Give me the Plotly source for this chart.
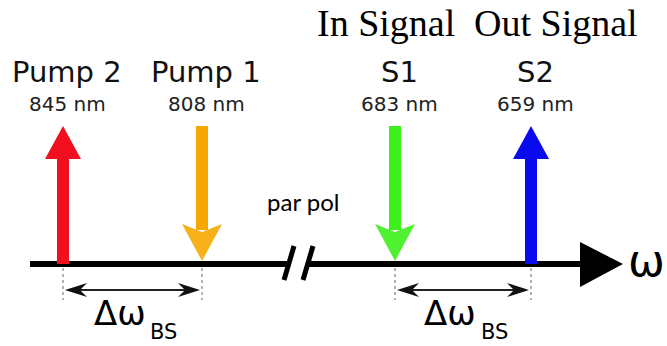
import plotly.graph_objects as go

# Optical lines on the frequency axis (schematic positions along ω)
line_names = ["Pump 2", "Pump 1", "S1", "S2"]
wavelengths_nm = [845, 808, 683, 659]
axis_pos = [63, 202, 395, 531]
directions = ["up", "down", "down", "up"]
line_colors = ["#f01020", "#f6a800", "#3cf01a", "#0a0aee"]

# Group headers above the signal lines
group_titles = ["In Signal", "Out Signal"]
group_pos = [386, 556]

# Pairs of lines separated by the Bragg-scattering shift
shift_pairs = [(0, 1), (2, 3)]

W, H = 667, 346
AXIS_Y = 264
TOP_Y = 126
SANS = "DejaVu Sans"

shapes = []
annotations = []

# Frequency axis with a break and an arrowhead
shapes.append(dict(type="line", x0=30, x1=289, y0=AXIS_Y, y1=AXIS_Y,
                   line=dict(color="black", width=6)))
shapes.append(dict(type="line", x0=307, x1=584, y0=AXIS_Y, y1=AXIS_Y,
                   line=dict(color="black", width=6)))
for bx in (289, 308):
    shapes.append(dict(type="line", x0=bx - 5, x1=bx + 5, y0=AXIS_Y + 16, y1=AXIS_Y - 18,
                       line=dict(color="black", width=5)))
shapes.append(dict(type="path",
                   path=f"M 580,{AXIS_Y-22} L 623,{AXIS_Y} L 580,{AXIS_Y+23} Z",
                   fillcolor="black", line=dict(width=0)))
annotations.append(dict(x=646, y=AXIS_Y - 4, text="ω", showarrow=False,
                        font=dict(family=SANS, size=44, color="black"),
                        xanchor="center", yanchor="middle"))

# Coloured arrows for each optical line
for x, d, c in zip(axis_pos, directions, line_colors):
    if d == "up":
        base = 159
        shapes.append(dict(type="path",
                           path=f"M {x-6},{AXIS_Y} L {x+6},{AXIS_Y} L {x+6},{base} L {x-6},{base} Z",
                           fillcolor=c, line=dict(width=0)))
        shapes.append(dict(type="path",
                           path=f"M {x-18},{base} L {x},{TOP_Y} L {x+18},{base} Z",
                           fillcolor=c, line=dict(width=0)))
    else:
        start = 224
        shapes.append(dict(type="path",
                           path=f"M {x-6},{TOP_Y} L {x+6},{TOP_Y} L {x+6},{start+6} L {x-6},{start+6} Z",
                           fillcolor=c, line=dict(width=0)))
        shapes.append(dict(type="path",
                           path=f"M {x-20},{start} L {x},{start+8} L {x+20},{start} L {x},{AXIS_Y-3} Z",
                           fillcolor=c, line=dict(width=0), opacity=0.9))

# Line names and wavelengths
for name, wl, x in zip(line_names, wavelengths_nm, axis_pos):
    annotations.append(dict(x=x + 4, y=72, text=name, showarrow=False,
                            font=dict(family=SANS, size=29, color="#111"),
                            xanchor="center", yanchor="middle"))
    annotations.append(dict(x=x + 4, y=104, text=f"{wl} nm", showarrow=False,
                            font=dict(family=SANS, size=20, color="#222"),
                            xanchor="center", yanchor="middle"))

for t, x in zip(group_titles, group_pos):
    annotations.append(dict(x=x, y=23, text=t, showarrow=False,
                            font=dict(family="Liberation Serif", size=38, color="black"),
                            xanchor="center", yanchor="middle"))

annotations.append(dict(x=303, y=201, text="par pol", showarrow=False,
                        font=dict(family="Lato", size=24, color="black"),
                        xanchor="center", yanchor="middle"))

# Dotted markers under the axis
for x in axis_pos:
    shapes.append(dict(type="line", x0=x, x1=x, y0=AXIS_Y + 4, y1=300,
                       line=dict(color="#666", width=1, dash="dot")))

# Double-headed shift arrows with Δω_BS labels
ARR_Y = 290
for i, j in shift_pairs:
    xa, xb = axis_pos[i] + 2, axis_pos[j] - 2
    shapes.append(dict(type="line", x0=xa + 6, x1=xb - 6, y0=ARR_Y, y1=ARR_Y,
                       line=dict(color="#222", width=2)))
    shapes.append(dict(type="path",
                       path=f"M {xa},{ARR_Y} L {xa+22},{ARR_Y-7} L {xa+15},{ARR_Y} L {xa+22},{ARR_Y+7} Z",
                       fillcolor="#111", line=dict(width=0)))
    shapes.append(dict(type="path",
                       path=f"M {xb},{ARR_Y} L {xb-22},{ARR_Y-7} L {xb-15},{ARR_Y} L {xb-22},{ARR_Y+7} Z",
                       fillcolor="#111", line=dict(width=0)))
    mid = (axis_pos[i] + axis_pos[j]) / 2
    annotations.append(dict(x=mid - 13, y=313, text="Δω", showarrow=False,
                            font=dict(family=SANS, size=34, color="black"),
                            xanchor="center", yanchor="middle"))
    annotations.append(dict(x=mid + 31, y=H - 1, text="BS", showarrow=False,
                            font=dict(family=SANS, size=21, color="black"),
                            xanchor="center", yanchor="bottom", borderpad=0))

fig = go.Figure()
fig.update_layout(
    width=W, height=H,
    margin=dict(l=0, r=0, t=0, b=0),
    paper_bgcolor="white", plot_bgcolor="white",
    xaxis=dict(range=[0, W], visible=False, fixedrange=True),
    yaxis=dict(range=[H, 0], visible=False, fixedrange=True),
    shapes=shapes, annotations=annotations,
    showlegend=False,
)
fig.write_html("out.html", config={"displayModeBar": False})
